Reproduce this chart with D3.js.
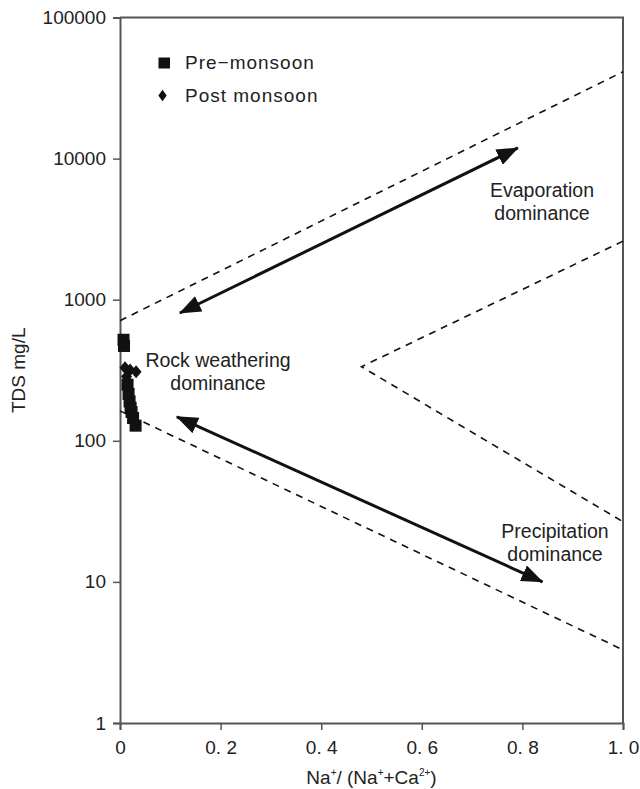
<!DOCTYPE html>
<html>
<head>
<meta charset="utf-8">
<script src="https://cdn.jsdelivr.net/npm/d3@7/dist/d3.min.js"></script>
<style>
  html, body { margin: 0; padding: 0; background: #fff; }
  svg text { font-family: "Liberation Sans", Arial, Helvetica, sans-serif; fill: #222; }
</style>
</head>
<body>
<svg id="chart" width="640" height="789"></svg>
<script>
// Gibbs diagram: TDS against Na+/(Na+ + Ca2+)
const xTicks = [0, 0.2, 0.4, 0.6, 0.8, 1.0];
const yTicks = [1, 10, 100, 1000, 10000, 100000];

// Pre-monsoon samples: [ratio, TDS mg/L]
const preRatio = [0.007, 0.008, 0.015, 0.017, 0.019, 0.021, 0.023, 0.026, 0.031];
const preTDS   = [520, 470, 250, 215, 190, 172, 160, 145, 128];

// Post-monsoon samples
const postRatio = [0.010, 0.020, 0.032, 0.013, 0.016, 0.018, 0.020, 0.022];
const postTDS   = [330, 318, 308, 285, 262, 232, 205, 182];

// Dashed boundary envelopes (outer pair and inner wedge)
const outerUpper = [[0, 710], [1, 41300]];
const outerLower = [[0, 163], [1, 3.3]];
const innerWedge = [[1, 2600], [0.48, 335], [1, 26.7]];

// Double-headed trend arrows
const arrowEvap = [[0.119, 805], [0.791, 11900]];
const arrowPrec = [[0.113, 148], [0.840, 10]];

const svg = d3.select("#chart");
const x = d3.scaleLinear().domain([0, 1]).range([120, 623]);
const y = d3.scaleLog().domain([1, 100000]).range([723, 17.5]);

const axisColor = "#555";

// frame (top and right edges)
svg.append("path")
  .attr("d", `M${x(0)},${y(100000)}H${x(1)}V${y(1)}`)
  .attr("fill", "none").attr("stroke", axisColor).attr("stroke-width", 2);

const xAxis = svg.append("g")
  .attr("transform", `translate(0,${y(1)})`)
  .call(d3.axisBottom(x).tickValues(xTicks).tickSize(7).tickPadding(11)
    .tickFormat(d => d === 0 ? "0" : d.toFixed(1).replace(".", ". ")));
const yAxis = svg.append("g")
  .attr("transform", `translate(${x(0)},0)`)
  .call(d3.axisLeft(y).tickValues(yTicks).tickSize(7).tickPadding(7)
    .tickFormat(d3.format("d")));

[xAxis, yAxis].forEach(g => {
  g.select(".domain").attr("stroke", axisColor).attr("stroke-width", 2);
  g.selectAll(".tick line").attr("stroke", axisColor).attr("stroke-width", 1.5);
  g.selectAll(".tick text").attr("font-size", 19).attr("fill", "#222")
    .attr("font-family", "Liberation Sans, Arial, sans-serif");
});

// axis titles
const xt = svg.append("text").attr("x", (x(0) + x(1)) / 2).attr("y", 784)
  .attr("text-anchor", "middle").attr("font-size", 19);
const xParts = [["Na", false], ["+", true], ["/ (Na", false], ["+", true], ["+Ca", false], ["2+", true], [")", false]];
xParts.forEach(([t, sup], i) => {
  const ts = xt.append("tspan").text(t);
  if (sup) ts.attr("font-size", 10).attr("dy", -8);
  else ts.attr("dy", i > 0 && xParts[i - 1][1] ? 8 : 0);
});

svg.append("text")
  .attr("transform", `translate(25,${(y(1) + y(100000)) / 2}) rotate(-90)`)
  .attr("text-anchor", "middle").attr("font-size", 19)
  .text("TDS mg/L");

// dashed boundaries
const line = d3.line().x(d => x(d[0])).y(d => y(d[1]));
[outerUpper, outerLower, innerWedge].forEach(pts => {
  svg.append("path").attr("d", line(pts))
    .attr("fill", "none").attr("stroke", "#111").attr("stroke-width", 1.6)
    .attr("stroke-dasharray", "7,6");
});

// arrowheads
const defs = svg.append("defs");
defs.append("marker")
  .attr("id", "head").attr("markerUnits", "userSpaceOnUse")
  .attr("viewBox", "0 0 22 17").attr("markerWidth", 22).attr("markerHeight", 17)
  .attr("refX", 21).attr("refY", 8.5).attr("orient", "auto-start-reverse")
  .append("path").attr("d", "M0,0L22,8.5L0,17Z").attr("fill", "#111");

[arrowEvap, arrowPrec].forEach(pts => {
  svg.append("path").attr("d", line(pts))
    .attr("stroke", "#111").attr("stroke-width", 3).attr("fill", "none")
    .attr("marker-start", "url(#head)").attr("marker-end", "url(#head)");
});

// zone labels
function label(lines, cx, baseline) {
  const t = svg.append("text").attr("text-anchor", "middle").attr("font-size", 19.5);
  lines.forEach((s, i) => t.append("tspan").attr("x", cx).attr("y", baseline + i * 22.5).text(s));
}
label(["Evaporation", "dominance"], 542, 197);
label(["Rock weathering", "dominance"], 218, 367);
label(["Precipitation", "dominance"], 555, 538);

// samples
const sq = 12;
svg.append("g").selectAll("rect")
  .data(d3.zip(preRatio, preTDS)).join("rect")
  .attr("x", d => x(d[0]) - sq / 2).attr("y", d => y(d[1]) - sq / 2)
  .attr("width", sq).attr("height", sq).attr("fill", "#111");

const diamondPath = (hw, hh) => `M0,${-hh}L${hw},0L0,${hh}L${-hw},0Z`;
svg.append("g").selectAll("path")
  .data(d3.zip(postRatio, postTDS)).join("path")
  .attr("transform", d => `translate(${x(d[0])},${y(d[1])})`)
  .attr("d", diamondPath(5.5, 6.5)).attr("fill", "#111");

// legend
const leg = svg.append("g");
leg.append("rect").attr("x", 158.5).attr("y", 57.5).attr("width", 11.5).attr("height", 11).attr("fill", "#111");
leg.append("path").attr("transform", "translate(162.5,95.5)").attr("d", diamondPath(4.2, 5.8)).attr("fill", "#111");
leg.append("text").attr("x", 185).attr("y", 69).attr("font-size", 19).attr("letter-spacing", 1).text("Pre\u2212monsoon");
leg.append("text").attr("x", 185).attr("y", 102).attr("font-size", 19).attr("letter-spacing", 1).text("Post monsoon");
</script>
</body>
</html>
